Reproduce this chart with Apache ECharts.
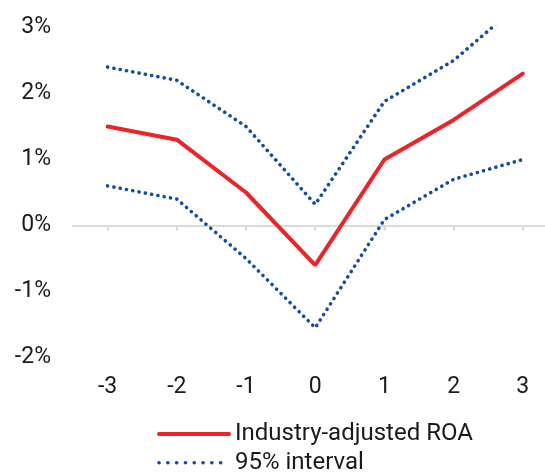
<!DOCTYPE html>
<html>
<head>
<meta charset="utf-8">
<script src="https://cdn.jsdelivr.net/npm/echarts@6/dist/echarts.min.js"></script>
<style>
  html, body { margin: 0; padding: 0; background: #fff; }
  #chart { width: 545px; height: 472px; }
</style>
</head>
<body>
<div id="chart"></div>
<script>
// Event-time categories (years relative to the event)
const years = ['-3', '-2', '-1', '0', '1', '2', '3'];
// Industry-adjusted ROA, in percent
const roa = [1.5, 1.3, 0.5, -0.6, 1.0, 1.6, 2.3];
// 95% confidence band, in percent
const upperBand = [2.4, 2.2, 1.5, 0.32, 1.88, 2.5, 3.4];
const lowerBand = [0.6, 0.4, -0.5, -1.55, 0.09, 0.7, 1.0];
// Y-axis range and step, in percent
const yMin = -2, yMax = 3, yStep = 1;

const textColor = '#1a1a1a';
const red = '#ee2229';
const blue = '#134d9e';
const grey = '#d9d9d9';
const font = 'Roboto';

const chart = echarts.init(document.getElementById('chart'), null, { renderer: 'canvas' });

const dotted = { type: [0.1, 6.3], cap: 'round', width: 3.6, color: blue };

chart.setOption({
  animation: false,
  grid: { left: 73, width: 484.4, top: 27.5, height: 330, containLabel: false, outerBoundsMode: 'none' },
  xAxis: [
    {
      type: 'category',
      data: years,
      position: 'bottom',
      boundaryGap: true,
      axisLine: { show: false, onZero: false },
      axisTick: { show: false },
      axisLabel: { color: textColor, fontSize: 23, fontFamily: font, margin: 18 }
    },
    {
      type: 'category',
      data: years,
      position: 'bottom',
      boundaryGap: true,
      axisLine: { show: true, onZero: true, lineStyle: { color: grey, width: 2 } },
      axisTick: { show: true, alignWithLabel: true, length: 5, lineStyle: { color: grey, width: 2 } },
      axisLabel: { show: false }
    }
  ],
  yAxis: {
    type: 'value',
    min: yMin,
    max: yMax,
    interval: yStep,
    axisLine: { show: false },
    axisTick: { show: false },
    splitLine: { show: false },
    axisLabel: {
      color: textColor, fontSize: 23, fontFamily: font, margin: 22,
      formatter: v => v + '%'
    }
  },
  legend: {
    orient: 'vertical',
    left: 157,
    top: 422,
    height: 80,
    padding: 0,
    itemWidth: 70,
    itemHeight: 20,
    itemGap: 4.7,
    itemStyle: { opacity: 0 },
    textStyle: { color: textColor, fontSize: 24, fontFamily: font, lineHeight: 24, padding: [0, 0, 0, 1] },
    data: [
      { name: 'Industry-adjusted ROA', lineStyle: { width: 4, color: red } },
      { name: '95% interval', lineStyle: { type: [0.1, 8.7], cap: 'round', width: 3.6, color: blue } }
    ]
  },
  series: [
    {
      name: '95% interval',
      type: 'line',
      data: upperBand,
      symbol: 'none',
      clip: true,
      lineStyle: dotted,
      itemStyle: { color: blue },
      z: 2
    },
    {
      name: '95% interval',
      type: 'line',
      data: lowerBand,
      symbol: 'none',
      clip: true,
      lineStyle: dotted,
      itemStyle: { color: blue },
      z: 2
    },
    {
      name: 'Industry-adjusted ROA',
      type: 'line',
      data: roa,
      symbol: 'none',
      clip: true,
      lineStyle: { width: 4, color: red, cap: 'round' },
      itemStyle: { color: red },
      z: 3
    }
  ]
});
</script>
</body>
</html>
